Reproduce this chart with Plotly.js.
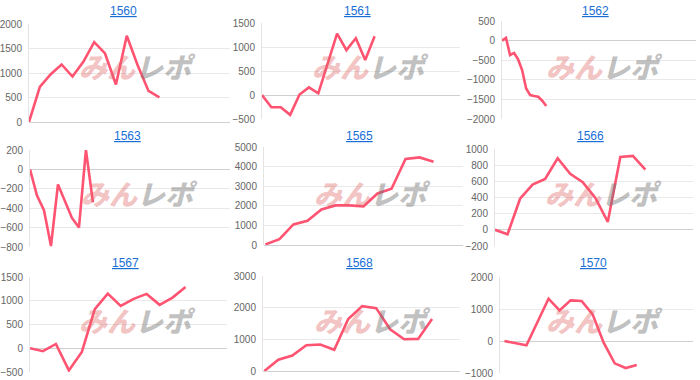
<!DOCTYPE html>
<html>
<head>
<meta charset="utf-8">
<script src="https://cdn.plot.ly/plotly-3.0.1.min.js"></script>
<style>html,body{margin:0;padding:0;background:#fff;}#chart{width:700px;height:380px;}</style>
</head>
<body>
<div id="chart"></div>
<script>
// ---- data ----
const titles = ['1560','1561','1562','1563','1565','1566','1567','1568','1570'];
const v1560 = [0,717,976,1174,928,1229,1631,1399,765,1761,1160,635,505];
const v1561 = [0,-255,-255,-413,10,158,34,660,1280,936,1183,729,1224];
const v1562 = [0,70,-370,-315,-480,-750,-1220,-1390,-1415,-1432,-1534,-1670];
const v1563 = [0,-270,-420,-790,-155,-320,-500,-600,200,-340];
const v1565 = [30,300,1050,1240,1810,2020,2020,1970,2630,2870,4390,4470,4250];
const v1566 = [0,-55,385,560,630,885,693,590,398,98,900,914,746];
const v1567 = [0,-63,90,-467,-77,823,1151,893,1039,1144,914,1067,1290];
const v1568 = [0,355,491,815,836,669,1640,2048,1985,1317,1003,1014,1640];
const v1570 = [0,-63,-135,594,1323,958,1271,1250,833,-52,-698,-844,-750];
const series = [v1560,v1561,v1562,v1563,v1565,v1566,v1567,v1568,v1570];

// ---- layout config (pixels) ----
const W = 700, H = 380;
const panels = [
  {xd:[29,230], yd:[24,122], xr:[0,18.5], yr:[0,2000],     dt:500,  tx:124, ty:11,  wx:137, wy:66},
  {xd:[262,460],yd:[23,119], xr:[0,21.1], yr:[-500,1500],  dt:500,  tx:357, ty:11,  wx:370, wy:66},
  {xd:[502,696],yd:[21,119], xr:[0,48.2], yr:[-2000,500],  dt:500,  tx:595, ty:11,  wx:604, wy:66},
  {xd:[30,230], yd:[150,247],xr:[0,28.6], yr:[-800,200],   dt:200,  tx:127, ty:136, wx:139, wy:193},
  {xd:[264,463],yd:[147,245],xr:[-0.1,14.1],yr:[0,5000],   dt:1000, tx:360, ty:136, wx:372, wy:193},
  {xd:[495,693],yd:[149,246],xr:[0,15.8], yr:[-200,1000],  dt:200,  tx:590, ty:136, wx:603, wy:193},
  {xd:[30,227], yd:[277,372],xr:[0,15.2], yr:[-500,1500],  dt:500,  tx:125, ty:263, wx:137, wy:320},
  {xd:[263,460],yd:[276,371],xr:[-0.1,14], yr:[0,3000],     dt:1000, tx:359, ty:263, wx:372, wy:320},
  {xd:[500,693],yd:[277,373],xr:[-0.4,17.1],yr:[-1000,2000],dt:1000, tx:593, ty:263, wx:604, wy:320}
];

const lineColor = '#ff5372';
const data = [];
const layout = {
  width: W, height: H,
  margin: {l:0, r:0, t:0, b:0},
  paper_bgcolor: '#fff', plot_bgcolor: '#fff',
  showlegend: false,
  font: {family: 'Liberation Sans, Arial, sans-serif', color: '#666', size: 10},
  annotations: []
};

panels.forEach((p, i) => {
  const n = i + 1;
  const xa = n === 1 ? 'x' : 'x' + n;
  const ya = n === 1 ? 'y' : 'y' + n;
  data.push({
    y: series[i],
    type: 'scatter', mode: 'lines',
    line: {color: lineColor, width: 2.6},
    xaxis: xa, yaxis: ya,
    hoverinfo: 'none'
  });
  layout['xaxis' + (n === 1 ? '' : n)] = {
    domain: [p.xd[0] / W, p.xd[1] / W],
    range: p.xr,
    anchor: ya,
    showgrid: false, zeroline: false, showticklabels: false, ticks: '',
    showline: false, fixedrange: true
  };
  layout['yaxis' + (n === 1 ? '' : n)] = {
    domain: [1 - p.yd[1] / H, 1 - p.yd[0] / H],
    range: p.yr,
    dtick: p.dt, tick0: 0,
    anchor: xa,
    showgrid: true, gridcolor: '#e9e9e9', gridwidth: 1,
    zeroline: true, zerolinecolor: '#d0d0d0', zerolinewidth: 1,
    showline: true, linecolor: '#e4e4e4', linewidth: 1,
    ticks: '', ticklabelstandoff: 4,
    tickfont: {size: 10, color: '#666'},
    fixedrange: true
  };
  layout.annotations.push({
    xref: 'paper', yref: 'paper',
    x: p.wx / W, y: 1 - p.wy / H,
    xanchor: 'center', yanchor: 'middle',
    text: '<span style="color:rgba(222,100,100,0.4)">みん</span><span style="color:rgba(115,115,115,0.45)">レポ</span>',
    showarrow: false,
    font: {family: 'Noto Sans CJK JP, sans-serif', size: 28, weight: 900, style: 'italic'}
  });
  layout.annotations.push({
    xref: 'paper', yref: 'paper',
    x: p.tx / W, y: 1 - p.ty / H,
    xanchor: 'center', yanchor: 'middle',
    text: '<u>' + titles[i] + '</u>',
    showarrow: false,
    font: {family: 'Liberation Sans, Arial, sans-serif', size: 12, color: '#1a6fd6'}
  });
});

Plotly.newPlot('chart', data, layout, {displayModeBar: false, staticPlot: true});
</script>
</body>
</html>
